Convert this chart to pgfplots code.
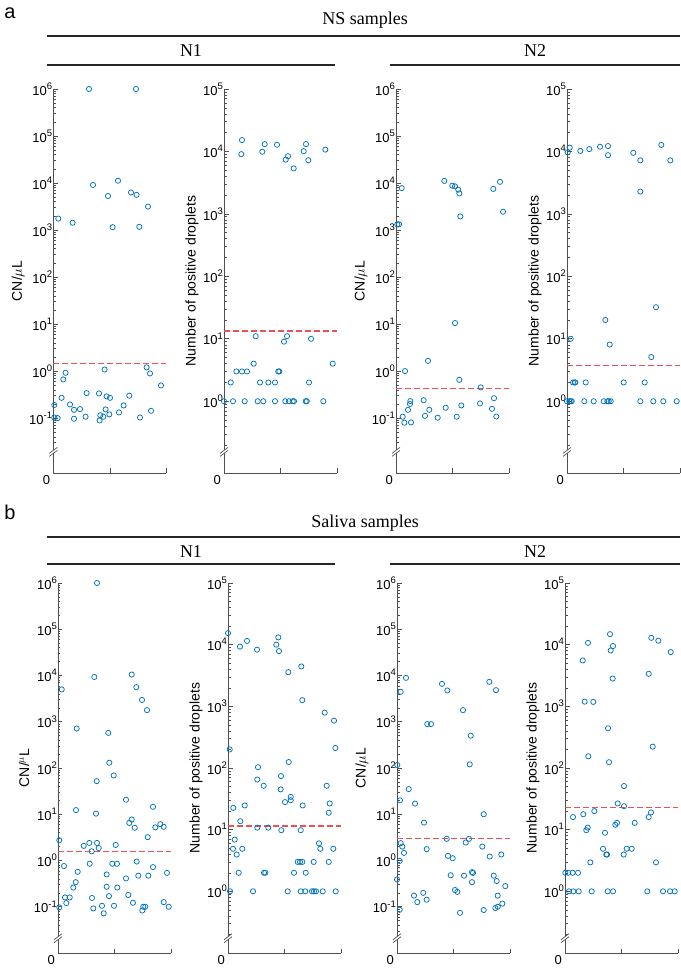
\documentclass[border=0pt]{standalone}
\usepackage{fontspec}
\setmainfont{Liberation Serif}
\newfontfamily\arial{Liberation Sans}
\usepackage{pgfplots}
\pgfplotsset{compat=1.18}
\definecolor{mblue}{RGB}{0,114,189}
\definecolor{mred}{RGB}{236,80,80}
\definecolor{axc}{RGB}{80,80,80}
\newcommand\tp[1]{10\raisebox{0.45em}{\fontsize{9.5}{9.5}\selectfont #1}}
\pgfplotsset{
  myBase/.style={scale only axis, width=113pt, xmin=0, xmax=113,
    axis x line*=bottom, axis y line*=left, xtick={0,56.5,113}, xticklabels={},
    tick align=inside, axis line style={-, draw=axc, line width=0.7pt},
    major tick style={draw=axc, line width=0.6pt}, minor tick style={draw=axc, line width=0.5pt},
    major tick length=4.5pt, minor tick length=2.5pt, clip=false,
    yticklabel style={font=\arial\fontsize{13}{13}\selectfont, inner sep=1pt},
    ylabel style={font=\arial\fontsize{14}{14}\selectfont},
  },
  myA/.style={myBase, ymax=1e6,
    ytick={0.1,1,10,100,1000,10000,100000,1000000},
    yticklabels={\tp{-1},\tp{0},\tp{1},\tp{2},\tp{3},\tp{4},\tp{5},\tp{6}},
    minor ytick={0.03,0.04,0.05,0.06,0.07,0.08,0.09,0.2,0.3,0.4,0.5,0.6,0.7,0.8,0.9,2,3,4,5,6,7,8,9,20,30,40,50,60,70,80,90,200,300,400,500,600,700,800,900,2000,3000,4000,5000,6000,7000,8000,9000,20000,30000,40000,50000,60000,70000,80000,90000,200000,300000,400000,500000,600000,700000,800000,900000},
  },
  myB/.style={myBase, ymax=1e5,
    ytick={1,10,100,1000,10000,100000},
    yticklabels={\tp{0},\tp{1},\tp{2},\tp{3},\tp{4},\tp{5}},
    minor ytick={0.2,0.3,0.4,0.5,0.6,0.7,0.8,0.9,2,3,4,5,6,7,8,9,20,30,40,50,60,70,80,90,200,300,400,500,600,700,800,900,2000,3000,4000,5000,6000,7000,8000,9000,20000,30000,40000,50000,60000,70000,80000,90000},
  },
  myPts/.style={only marks, mark=o, mark size=2.6pt, mark options={draw=mblue, line width=0.75pt}},
  myThr/.style={draw=mred, mark=none, dash pattern=on 6pt off 3pt, line width=1.2pt},
}
\newcommand\brk[2]{\path (rel axis cs:0,#2) coordinate (#1); \path (rel axis cs:0,0) coordinate (#1z);}
\newcommand\drawbrk[1]{%
  \fill[white] ([xshift=-4pt,yshift=-4.5pt]#1) -- ([xshift=4pt,yshift=1.5pt]#1) -- ([xshift=4pt,yshift=4.5pt]#1) -- ([xshift=-4pt,yshift=-1.5pt]#1) -- cycle;
  \draw[axc, line width=0.7pt] ([xshift=-4pt,yshift=-4.5pt]#1) -- ([xshift=4pt,yshift=1.5pt]#1);
  \draw[axc, line width=0.7pt] ([xshift=-4pt,yshift=-1.5pt]#1) -- ([xshift=4pt,yshift=4.5pt]#1);
  \node[font=\arial\fontsize{13}{13}\selectfont, anchor=east, inner sep=1pt] at ([xshift=-2pt,yshift=-7pt]#1z) {0};}
\begin{document}
\begin{tikzpicture}
\path[use as bounding box] (0,0) rectangle (680pt,968pt);
% headers
\node[font=\arial\fontsize{20}{20}\selectfont] at (10pt,955pt) {a};
\node[font=\fontsize{18}{18}\selectfont] at (365pt,948pt) {NS samples};
\draw[line width=1.3pt, black!85] (47pt,932pt) -- (680pt,932pt);
\node[font=\fontsize{18}{18}\selectfont] at (191pt,917pt) {N1};
\node[font=\fontsize{18}{18}\selectfont] at (535pt,917pt) {N2};
\draw[line width=1.3pt, black!85] (47pt,903pt) -- (335pt,903pt);
\draw[line width=1.3pt, black!85] (390pt,903pt) -- (680pt,903pt);
\node[font=\arial\fontsize{20}{20}\selectfont] at (10pt,456pt) {b};
\node[font=\fontsize{18}{18}\selectfont] at (365pt,445pt) {Saliva samples};
\draw[line width=1.3pt, black!85] (47pt,431pt) -- (680pt,431pt);
\node[font=\fontsize{18}{18}\selectfont] at (191pt,416pt) {N1};
\node[font=\fontsize{18}{18}\selectfont] at (535pt,416pt) {N2};
\draw[line width=1.3pt, black!85] (47pt,404pt) -- (335pt,404pt);
\draw[line width=1.3pt, black!85] (390pt,404pt) -- (680pt,404pt);

% ---------- top row ----------
\begin{axis}[ymode=log, myA, ymin=0.0068, height=384pt, at={(53.3pt,495pt)}, anchor=south west, ylabel={CN/$\mu$L}]
\addplot[myThr] coordinates {(0,1.43) (113,1.43)};
\addplot[myPts] coordinates {(35.7,1e6) (82.7,1e6) (39.7,9100) (64.7,11200) (54.7,5300) (77.7,6300) (83.3,5600) (94.7,3150) (5,1750) (19.3,1430) (59.3,1150) (86,1170)
(93.3,1.2) (96.7,0.89) (51.3,1.08) (12.3,0.92) (10,0.665) (107.7,0.495) (8.3,0.27) (33.3,0.34) (45.7,0.335) (53.3,0.29) (56.7,0.27) (76,0.30) (1,0.19) (16.7,0.195) (20.7,0.15) (26.7,0.155) (52.3,0.153) (70.3,0.186) (65.7,0.132) (97.7,0.143) (1,0.103) (4.3,0.1) (20.7,0.097) (32.3,0.107) (47,0.115) (50,0.107) (56,0.12) (46.3,0.089) (86.7,0.103)};
\brk{b1}{0.055}
\end{axis}

\begin{axis}[ymode=log, myB, ymin=0.071, height=384pt, at={(224pt,495pt)}, anchor=south west, ylabel={Number of positive droplets}]
\addplot[myThr] coordinates {(0,13.3) (113,13.3)};
\addplot[myPts] coordinates {(18,15200) (17.3,9050) (38.3,9900) (40.7,13100) (53,12800) (79.7,10100) (82,13100) (101.3,10700) (64,8400) (61.7,7400) (84.3,7250) (69.7,5350)
(31.7,11) (63,11) (60,9) (87,10) (29.7,4) (108.7,4) (12.3,3) (18,3) (23,3) (54.3,3) (55.3,3) (6.7,2) (36,2) (44.3,2) (51,2) (85,2)
(0,1) (9,1) (20.7,1) (33.7,1) (39.3,1) (51,1) (61.3,1) (65,1) (68.7,1) (70,1) (81.7,1) (82.7,1) (99.3,1)};
\brk{b2}{0.055}
\end{axis}

\begin{axis}[ymode=log, myA, ymin=0.0068, height=384pt, at={(396pt,495pt)}, anchor=south west, ylabel={CN/$\mu$L}]
\addplot[myThr] coordinates {(0,0.42) (113,0.42)};
\addplot[myPts] coordinates {(5.7,7800) (1.3,1320) (3,1320) (48.3,11100) (56.3,8800) (59,8500) (62.3,7200) (63.3,6000) (64.3,1950) (97.3,7500) (104,10600) (107,2450) (59,10.5) (32,1.65) (9,1.0) (63.3,0.65) (84.7,0.45) (14.3,0.23) (14,0.2) (27.7,0.24) (33.3,0.15) (12,0.15) (49.7,0.166) (65.3,0.186) (84,0.205) (98,0.265) (96,0.158) (6.7,0.107) (29,0.112) (41.7,0.102) (60.7,0.107) (100.3,0.108) (8.3,0.08) (15,0.081)};
\brk{b3}{0.055}
\end{axis}

\begin{axis}[ymode=log, myB, ymin=0.071, height=384pt, at={(567pt,495pt)}, anchor=south west, ylabel={Number of positive droplets}]
\addplot[myThr] coordinates {(0,3.7) (113,3.7)};
\addplot[myPts] coordinates {(0.7,9650) (2.7,11500) (13.3,10200) (22.3,10900) (33,11900) (41,12200) (41,8700) (66.3,9500) (73.3,7200) (94.3,12700) (103.3,7200) (73.3,2280) (89,32) (38.3,20) (3.7,10) (42.7,8.1) (84.3,5.1)
(6,2) (7.7,2) (8.3,2) (18.7,2) (56.7,2) (77.7,2)
(0,1) (2.3,1) (3.7,1) (4.7,1) (17.3,1) (26.7,1) (36.7,1) (40.3,1) (41.7,1) (43.7,1) (73.3,1) (86.3,1) (96.3,1) (109.7,1)};
\brk{b4}{0.055}
\end{axis}

% ---------- bottom row ----------
\begin{axis}[ymode=log, myA, ymin=0.01, height=370pt, at={(58pt,15pt)}, anchor=south west, ylabel={CN/$^{\mu}$L}]
\addplot[myThr] coordinates {(0,1.55) (113,1.55)};
\addplot[myPts] coordinates {(39,1e6) (36.3,9300) (3.7,5000) (73.7,10500) (78.3,5600) (84,2960) (89,1780) (18.7,713) (50.3,575) (51.3,130) (55.7,69) (38.7,52) (68,20.6) (95,14.5) (18,12.3) (38,10.3) (73.7,7.7) (71.3,6.5) (76.7,5.1) (97.3,5.2) (102.3,6.1) (105.7,5.35) (1.3,2.74) (89.7,3.2) (25.7,2.07) (31.3,2.4) (39,2.4) (40.7,1.86) (57.7,2.17) (33.7,1.58) (6,0.76) (31.7,0.85) (54.3,0.85) (59,0.85) (78.7,0.95) (19.7,0.57) (48.7,0.5) (80.3,0.47) (90.3,0.47) (95,0.72) (109,0.54) (68,0.41) (17.7,0.34) (15.3,0.26) (48.7,0.27) (59.3,0.26) (51,0.17) (70.3,0.18) (7,0.159) (11.7,0.159) (8.3,0.12) (34,0.155) (75,0.122) (56,0.105) (44,0.105) (1.3,0.097) (35.3,0.092) (45.7,0.072) (85.3,0.1) (87.3,0.1) (84.3,0.083) (105.7,0.126) (110.7,0.1)};
\brk{b5}{0.04}
\end{axis}

\begin{axis}[ymode=log, myB, ymin=0.1, height=370pt, at={(228pt,15pt)}, anchor=south west, ylabel={Number of positive droplets}]
\addplot[myThr] coordinates {(0,11.5) (113,11.5)};
\addplot[myPts] coordinates {(0,15400) (12,9300) (19,11500) (29,8300) (48.3,10000) (50.3,13100) (51,7850) (60.3,3580) (73.3,4430) (74.3,1260) (96.7,790) (106,586) (1.7,200) (107.3,211) (60.7,125) (30,103) (53,74) (29.3,65) (35.7,51.5) (98.7,51.5) (52.7,45) (62.7,34) (62.7,30) (57,28) (101.7,26.6) (16.7,24.7) (74.7,24.7) (5.3,22.6) (100.7,18.8) (12.3,13.7) (29.3,10.8) (40.3,10.8) (53.3,9.8) (72.7,9.8) (6.7,6.9) (5,4.9) (14.3,4.9) (8.7,3.95) (91,6) (92.3,4.9) (105.3,4.9)
(69.7,3) (72,3) (74.3,3) (85.7,3) (100.7,3)
(10.7,2) (36,2) (37.3,2) (66,2) (77.7,2)
(2,1) (25,1) (59.7,1) (72.7,1) (77.3,1) (84,1) (86,1) (88,1) (94.7,1) (107.7,1)};
\brk{b6}{0.04}
\end{axis}

\begin{axis}[ymode=log, myA, ymin=0.01, height=370pt, at={(397pt,15pt)}, anchor=south west, ylabel={CN/$\mu$L}]
\addplot[myThr] coordinates {(0,2.94) (113,2.94)};
\addplot[myPts] coordinates {(9,8900) (3.7,4440) (45,6600) (50.3,4750) (92.3,7300) (99,4820) (66,1780) (30.3,890) (34,890) (73.7,500) (72.7,120) (0.3,116) (11.7,35) (3,20) (18,17) (86.7,10) (27,6.6) (49.7,2.94) (72,2.94) (3.7,2.37) (68.7,2.45) (5.3,2.0) (85.3,2.0) (29.7,1.76) (7,1.46) (51,1.26) (55.7,1.12) (104.3,1.35) (92.7,1.22) (2.7,0.98) (75,0.56) (76,0.54) (53.7,0.48) (67,0.47) (96.7,0.47) (0,0.39) (75,0.34) (99.7,0.36) (108.3,0.28) (58,0.23) (60.3,0.21) (26.3,0.2) (17,0.174) (29.7,0.142) (20.3,0.126) (100.7,0.174) (105.3,0.117) (100.7,0.1) (98.3,0.094) (2.7,0.086) (86.7,0.085) (63,0.074)};
\brk{b7}{0.04}
\end{axis}

\begin{axis}[ymode=log, myB, ymin=0.1, height=370pt, at={(565pt,15pt)}, anchor=south west, ylabel={Number of positive droplets}]
\addplot[myThr] coordinates {(0,22.9) (113,22.9)};
\addplot[myPts] coordinates {(45,14800) (86.3,12900) (93.3,11600) (23,10700) (48,9500) (45.7,8050) (105.7,7570) (17.7,5540) (83.7,3370) (47.7,2820) (19.7,1190) (28.3,1180) (43,440) (87.7,222) (23.3,155) (44,124) (59,51) (52.7,26.6) (59,24) (29.3,20) (18.3,17.8) (86,19) (8,16) (83.7,16) (52,12.9) (50.3,12) (69.7,12.9) (22.7,10.8) (21.3,9.8) (40,8.9) (38,4.9) (41.3,3.95) (42,3.95) (58.7,3.95) (61.7,4.9) (66.7,4.9) (25.3,2.95) (91,2.95)
(0.3,2) (3.3,2) (7.7,2) (13,2)
(4,1) (8.3,1) (13.7,1) (26.7,1) (42.7,1) (48,1) (82.3,1) (98,1) (105,1) (109.7,1)};
\brk{b8}{0.04}
\end{axis}

\drawbrk{b1}\drawbrk{b2}\drawbrk{b3}\drawbrk{b4}
\drawbrk{b5}\drawbrk{b6}\drawbrk{b7}\drawbrk{b8}
\end{tikzpicture}
\end{document}
